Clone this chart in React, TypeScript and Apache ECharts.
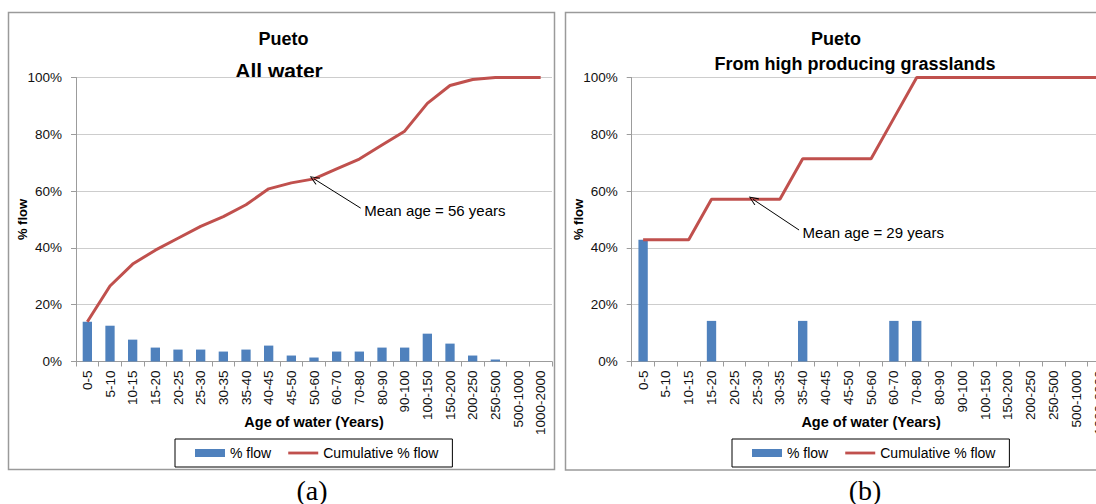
import React, { useEffect, useRef } from "react";
import * as echarts from "echarts";

// Age classes (years) shared by both panels
const ageClasses = [
  "0-5", "5-10", "10-15", "15-20", "20-25", "25-30", "30-35", "35-40", "40-45", "45-50",
  "50-60", "60-70", "70-80", "80-90", "90-100", "100-150", "150-200", "200-250",
  "250-500", "500-1000", "1000-2000",
];

// (a) All water
const allWaterFlow = [
  14.0, 12.6, 7.7, 4.9, 4.2, 4.2, 3.5, 4.2, 5.6, 2.1,
  1.4, 3.5, 3.5, 4.9, 4.9, 9.8, 6.3, 2.1, 0.7, 0, 0,
];
const allWaterCumulative = [
  14.0, 26.6, 34.3, 39.2, 43.4, 47.6, 51.0, 55.2, 60.8, 62.9,
  64.3, 67.8, 71.3, 76.2, 81.1, 90.9, 97.2, 99.3, 100, 100, 100,
];

// (b) From high producing grasslands
const grassFlow = [
  42.9, 0, 0, 14.3, 0, 0, 0, 14.3, 0, 0,
  0, 14.3, 14.3, 0, 0, 0, 0, 0, 0, 0, 0,
];
const grassCumulative = [
  42.9, 42.9, 42.9, 57.1, 57.1, 57.1, 57.1, 71.4, 71.4, 71.4,
  71.4, 85.7, 100, 100, 100, 100, 100, 100, 100, 100, 100,
];

const percentTicks = { min: 0, max: 100, interval: 20 };

const panelTitles = [
  ["Pueto", "All water"],
  ["Pueto", "From high producing grasslands"],
];
const captions = ["(a)", "(b)"];
const meanAgeNotes = [
  { label: "Mean age = 56 years", tip: [10.5, 64.3], tail: [12.56, 54.0] },
  { label: "Mean age = 29 years", tip: [5.32, 57.1], tail: [7.34, 46.3] },
];

const FONT = "'Liberation Sans', Arial, sans-serif";
const SERIF = "'Liberation Serif', 'Times New Roman', serif";
const BLUE = "#4F81BD";
const RED = "#C0504D";
const AXIS = "#9c9c9c";
const GRID = "#cdcdcd";
const FRAME = "#9a9a9a";
const CHEVRON = "path://M5,0 L10,10 L9,10.8 L5,2.2 L1,10.8 L0,10 Z";
const LINE_KEY = "path://M0,0 L32,0 L32,3 L0,3 Z";

const grids = [
  { left: 76, top: 77.5, width: 476, height: 284 },
  { left: 631.7, top: 77.5, width: 478.8, height: 284 },
];
const legendLeft = [175, 732];

function buildOption(): echarts.EChartsOption {
  const panels = [
    { flow: allWaterFlow, cum: allWaterCumulative },
    { flow: grassFlow, cum: grassCumulative },
  ];

  const xAxis: any[] = [];
  const yAxis: any[] = [];
  const series: any[] = [];
  const legend: any[] = [];

  panels.forEach((p, i) => {
    xAxis.push({
      type: "category",
      gridIndex: i,
      data: ageClasses,
      boundaryGap: true,
      axisLine: { show: true, lineStyle: { color: AXIS, width: 1 } },
      axisTick: { show: true, interval: 0, length: 5, lineStyle: { color: AXIS } },
      axisLabel: {
        interval: 0,
        rotate: 90,
        margin: 9,
        fontFamily: FONT,
        fontSize: 13.5,
        color: "#111",
        hideOverlap: false,
      },
      name: "Age of water (Years)",
      nameLocation: "middle",
      nameGap: 53,
      nameMoveOverlap: false,
      nameTextStyle: { fontFamily: FONT, fontSize: 14.5, fontWeight: "bold", color: "#000" },
    });
    yAxis.push({
      type: "value",
      gridIndex: i,
      ...percentTicks,
      axisLine: { show: true, lineStyle: { color: AXIS, width: 1 } },
      axisTick: { show: true, length: 5, lineStyle: { color: AXIS } },
      splitLine: { show: true, lineStyle: { color: GRID, width: 1 } },
      axisLabel: {
        formatter: "{value}%",
        margin: 14,
        fontFamily: FONT,
        fontSize: 13.5,
        color: "#111",
      },
      name: "% flow",
      nameLocation: "middle",
      nameRotate: 90,
      nameGap: 47,
      nameMoveOverlap: false,
      nameTextStyle: { fontFamily: FONT, fontSize: 13, fontWeight: "bold", color: "#000" },
    });

    series.push({
      type: "bar",
      name: "% flow",
      xAxisIndex: i,
      yAxisIndex: i,
      data: p.flow,
      barWidth: "41%",
      itemStyle: { color: BLUE },
      silent: true,
    });
    series.push({
      type: "line",
      name: "Cumulative % flow",
      xAxisIndex: i,
      yAxisIndex: i,
      data: p.cum,
      symbol: "none",
      showSymbol: false,
      lineStyle: { color: RED, width: 3 },
      itemStyle: { color: RED },
      z: 3,
      silent: true,
    });

    legend.push({
      left: legendLeft[i],
      top: 439,
      orient: "horizontal",
      padding: [7, 14, 7, 20],
      itemGap: 17,
      itemWidth: 30,
      itemHeight: 8,
      symbolKeepAspect: true,
      borderColor: "#000",
      borderWidth: 1,
      selectedMode: false,
      textStyle: { fontFamily: FONT, fontSize: 14, color: "#000" },
      data: [
        { name: "% flow", icon: "rect" },
        { name: "Cumulative % flow", icon: LINE_KEY },
      ],
    });
  });

  // hidden continuous axes spanning the category bands, used to place the annotations
  panels.forEach((_, i) => {
    xAxis.push({
      type: "value",
      gridIndex: i,
      min: 0,
      max: ageClasses.length,
      show: false,
    });
  });

  meanAgeNotes.forEach((note, i) => {
    series.push({
      type: "scatter",
      xAxisIndex: 2 + i,
      yAxisIndex: i,
      data: [],
      silent: true,
      z: 4,
      markLine: {
        silent: true,
        symbol: ["none", CHEVRON],
        symbolSize: [8, 10],
        lineStyle: { color: "#000", width: 1, type: "solid" },
        label: { show: false },
        emphasis: { disabled: true },
        data: [[{ coord: note.tail }, { coord: note.tip }]],
      },
      markPoint: {
        silent: true,
        symbol: "circle",
        symbolSize: 1,
        itemStyle: { color: "rgba(0,0,0,0)" },
        label: {
          show: true,
          position: "right",
          distance: 3,
          offset: [0, 2],
          formatter: note.label,
          fontFamily: FONT,
          fontSize: 15,
          color: "#000",
        },
        data: [{ coord: note.tail }],
      },
    });
  });

  const titleText = (text: string, x: number, y: number, size: number) => ({
    type: "text",
    x,
    y,
    silent: true,
    style: {
      text,
      fontFamily: FONT,
      fontSize: size,
      fontWeight: "bold",
      fill: "#000",
      align: "center",
      verticalAlign: "middle",
    },
  });
  const captionText = (text: string, x: number) => ({
    type: "text",
    x,
    y: 490,
    silent: true,
    style: {
      text,
      fontFamily: SERIF,
      fontSize: 28,
      fill: "#000",
      align: "center",
      verticalAlign: "middle",
    },
  });

  const graphic: any[] = [
    {
      type: "rect",
      shape: { x: 8.5, y: 12.5, width: 546, height: 457 },
      style: { fill: "none", stroke: FRAME, lineWidth: 1.5 },
      silent: true,
    },
    {
      type: "rect",
      shape: { x: 565.5, y: 12.5, width: 560, height: 457.5 },
      style: { fill: "none", stroke: FRAME, lineWidth: 1.5 },
      silent: true,
    },
    titleText(panelTitles[0][0], 283.5, 39.2, 18),
    titleText(panelTitles[0][1], 279, 70, 21),
    titleText(panelTitles[1][0], 836, 38.7, 18),
    titleText(panelTitles[1][1], 855, 63.7, 18),
    captionText(captions[0], 312),
    captionText(captions[1], 865),
  ];

  return {
    animation: false,
    backgroundColor: "#ffffff",
    grid: grids.map((g) => ({ ...g, containLabel: false, outerBoundsMode: "none" })),
    xAxis,
    yAxis,
    series,
    legend,
    graphic,
  } as any;
}

export default function App() {
  const ref = useRef<HTMLDivElement>(null);

  useEffect(() => {
    if (!ref.current) return;
    const chart = echarts.init(ref.current, undefined, { renderer: "svg" });
    chart.setOption(buildOption());
    return () => {
      chart.dispose();
    };
  }, []);

  return (
    <div
      ref={ref}
      style={{
        position: "fixed",
        left: 0,
        top: 0,
        width: 1096,
        height: 504,
        background: "#fff",
      }}
    />
  );
}
